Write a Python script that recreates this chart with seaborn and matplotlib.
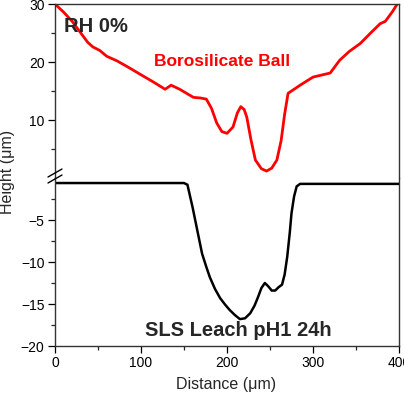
import matplotlib
matplotlib.use("Agg")
import matplotlib.pyplot as plt
from matplotlib.ticker import FixedLocator
import seaborn as sns
import pandas as pd

# Borosilicate ball profile (upper segment of the broken axis)
ball_x = [0, 10, 20, 30, 38, 44, 52, 60, 72, 84, 100, 115, 128, 135, 145, 161, 169,
          176, 182, 188, 194, 200, 207, 212, 216, 220, 223, 228, 233, 240, 246,
          252, 258, 263, 267, 271, 278, 285, 300, 320, 331, 342, 355, 367, 378,
          384, 392, 398, 400]
ball_y = [30.0, 28.6, 27.0, 25.0, 23.4, 22.6, 22.0, 21.0, 20.2, 19.2, 17.8, 16.5, 15.3,
          16.0, 15.3, 13.9, 13.8, 13.6, 12.0, 9.5, 8.0, 7.7, 8.8, 11.2, 12.3,
          11.8, 10.5, 6.5, 3.1, 1.6, 1.2, 1.7, 3.1, 6.5, 11.0, 14.6, 15.3,
          16.0, 17.4, 18.1, 20.3, 21.8, 23.2, 25.0, 26.6, 27.0, 28.6, 30.0, 30.4]

# SLS leach crater profile (lower segment of the broken axis)
sls_x = [0, 50, 100, 150, 154, 160, 166, 171, 176, 180, 186, 192, 198, 203,
         209, 215, 221, 227, 232, 236, 240, 244, 248, 252, 256, 260, 264, 267,
         270, 273, 275, 278, 281, 285, 300, 350, 400]
sls_y = [-0.6, -0.6, -0.6, -0.6, -0.8, -3.5, -6.5, -9.0, -10.6, -11.8, -13.2,
         -14.3, -15.1, -15.7, -16.3, -16.8, -16.7, -16.1, -15.2, -14.2, -13.1,
         -12.5, -12.9, -13.4, -13.4, -13.0, -12.7, -11.5, -9.4, -6.5, -4.2,
         -2.2, -1.0, -0.7, -0.7, -0.7, -0.7]

ball = pd.DataFrame({"x": ball_x, "y": ball_y})
sls = pd.DataFrame({"x": sls_x, "y": sls_y})

sns.set_style("ticks")
plt.rcParams["font.family"] = ["Liberation Sans", "DejaVu Sans"]
plt.rcParams["axes.linewidth"] = 1.0

fig = plt.figure(figsize=(4.04, 4.04), dpi=100)
left, right = 55 / 404, 399 / 404
y_mid = 1 - 178 / 404
y_top = 1 - 4 / 404
y_bot = 1 - 346 / 404
ax_top = fig.add_axes([left, y_mid, right - left, y_top - y_mid])
ax_bot = fig.add_axes([left, y_bot, right - left, y_mid - y_bot], sharex=ax_top)

sns.lineplot(data=ball, x="x", y="y", ax=ax_top, color="#ff0000", lw=2.0,
             sort=False, estimator=None)
sns.lineplot(data=sls, x="x", y="y", ax=ax_bot, color="black", lw=1.8,
             sort=False, estimator=None)

ax_top.set_xlim(0, 400)
ax_top.set_ylim(0, 30)
ax_bot.set_ylim(-20, 0)

for ax in (ax_top, ax_bot):
    for s in ax.spines.values():
        s.set_color("#333333")
        s.set_linewidth(1.0)
    ax.tick_params(axis="both", which="major", direction="out", length=5,
                   width=0.9, labelsize=10, colors="black", pad=2.5)
    ax.tick_params(axis="both", which="minor", direction="out", length=3,
                   width=0.9)
    ax.set_xlabel("")
    ax.set_ylabel("")

ax_top.spines["bottom"].set_visible(False)
ax_top.tick_params(axis="x", which="both", bottom=False, labelbottom=False)
ax_top.yaxis.set_major_locator(FixedLocator([10, 20, 30]))
ax_top.yaxis.set_minor_locator(FixedLocator([5, 15, 25]))

ax_bot.spines["top"].set_visible(False)
ax_bot.yaxis.set_major_locator(FixedLocator([-20, -15, -10, -5]))
ax_bot.yaxis.set_minor_locator(FixedLocator([-17.5, -12.5, -7.5, -2.5]))
ax_bot.xaxis.set_major_locator(FixedLocator([0, 100, 200, 300, 400]))
ax_bot.xaxis.set_minor_locator(FixedLocator([50, 150, 250, 350]))
ax_bot.set_xticklabels(["0", "100", "200", "300", "400"])

# break marks on the left spine
bx = left
by = y_mid + 2 / 404
for off in (-3 / 404, 3 / 404):
    fig.add_artist(plt.Line2D([bx - 7 / 404, bx + 7 / 404],
                              [by + off - 4 / 404, by + off + 4 / 404],
                              color="black", lw=1.0, transform=fig.transFigure))

ax_top.text(0.025, 0.87, "RH 0%", transform=ax_top.transAxes, fontsize=14.5,
            fontweight="bold", ha="left", va="center")
ax_top.text(0.485, 0.67, "Borosilicate Ball", transform=ax_top.transAxes,
            fontsize=12.5, fontweight="bold", color="#ff0000", ha="center",
            va="center")
ax_bot.text(0.532, 0.09, "SLS Leach pH1 24h", transform=ax_bot.transAxes,
            fontsize=14.5, fontweight="bold", ha="center", va="center")

fig.text(226 / 404, 1 - 385 / 404, "Distance (\u03bcm)", fontsize=11.5,
         ha="center", va="center")
fig.text(8 / 404, 1 - 172 / 404, "Height (\u03bcm)", fontsize=11.5,
         ha="center", va="center", rotation=90)

fig.savefig("out.png", dpi=100)
